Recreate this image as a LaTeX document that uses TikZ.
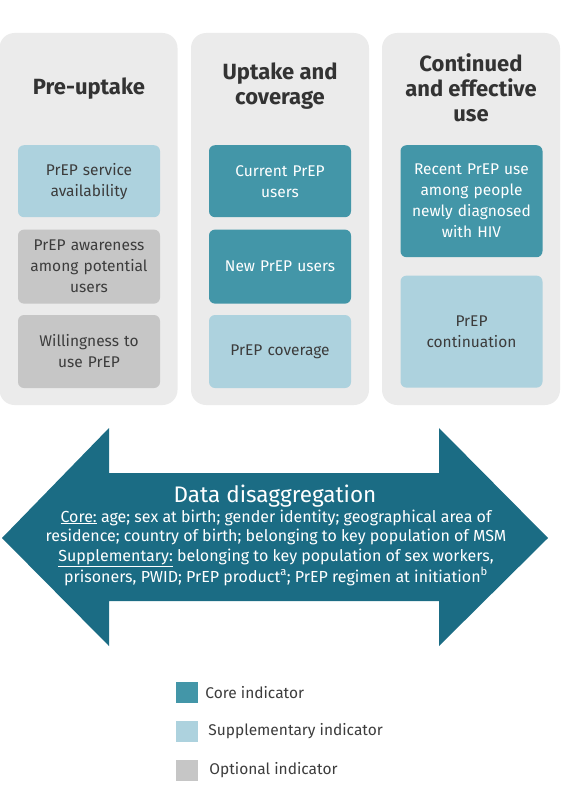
\documentclass[tikz,border=0pt]{standalone}
\usepackage{fontspec}
\setmainfont{Fira Sans}
\usetikzlibrary{positioning}

\definecolor{panelgray}{RGB}{235,235,235}
\definecolor{coreteal}{RGB}{67,150,168}
\definecolor{supblue}{RGB}{173,210,222}
\definecolor{optgray}{RGB}{198,198,198}
\definecolor{arrowteal}{RGB}{27,108,132}
\definecolor{titlegray}{RGB}{51,51,51}
\definecolor{textgray}{RGB}{60,60,60}

\begin{document}
\begin{tikzpicture}[x=1pt,y=1pt,
  panel/.style={fill=panelgray,rounded corners=15pt,minimum width=178pt,minimum height=372pt},
  head/.style={font=\fontsize{22}{25}\selectfont\bfseries,text=titlegray,align=center},
  ind/.style={rounded corners=6pt,minimum width=142pt,text width=136pt,align=center,
    font=\fontsize{15.5}{21}\selectfont,anchor=north,inner sep=0pt},
  core/.style={ind,fill=coreteal,text=white},
  supp/.style={ind,fill=supblue,text=textgray},
  opt/.style={ind,fill=optgray,text=textgray},
  key/.style={minimum width=22pt,minimum height=21pt,inner sep=0pt},
  keytext/.style={font=\fontsize{15.5}{18}\selectfont,text=textgray,inner sep=0pt}]
                \useasboundingbox (0,0) rectangle (567,-800);
                \node[panel] (p1) at (88.5,-219) {};
                \node[panel] (p2) at (280,-219) {};
                \node[panel] (p3) at (471,-219) {};
                \node[head] (t1) at (89,-89) {Pre-uptake};
                \node[head] (t2) at (280,-86) {Uptake and\\coverage};
                \node[head] (t3) at (471,-88) {Continued\\and effective\\use};
                \node[supp,minimum height=72pt] (avail) at (89,-145) {PrEP service\\availability};
                \node[opt,minimum height=74pt,below=12pt of avail] (aware) {PrEP awareness\\among potential\\users};
                \node[opt,minimum height=73pt,below=11pt of aware] (willing) {Willingness to\\use PrEP};
                \node[core,minimum height=72pt] (current) at (280,-145) {Current PrEP\\users};
                \node[core,minimum height=74pt,below=12pt of current] (newusers) {New PrEP users};
                \node[supp,minimum height=73pt,below=11pt of newusers] (coverage) {PrEP coverage};
                \node[core,minimum height=112pt] (recent) at (471.5,-145) {Recent PrEP use\\among people\\newly diagnosed\\with HIV};
                \node[supp,minimum height=112pt,below=18pt of recent] (contin) {PrEP\\continuation};
                \fill[arrowteal] (2,-538) -- (109,-428) -- (109,-473) -- (439,-473) -- (439,-428)
                  -- (548,-538) -- (439,-646) -- (439,-601) -- (109,-601) -- (109,-646) -- cycle;
                \node[font=\fontsize{22.5}{26}\selectfont,text=white] (dtitle) at (275,-496) {Data disaggregation};
                \node[font=\fontsize{16}{19.5}\selectfont,text=white,align=center] (dbody) at (276,-547.5)
                  {\underline{Core:} age; sex at birth; gender identity; geographical area of\\
                   residence; country of birth; belonging to key population of MSM\\
                   \underline{Supplementary:} belonging to key population of sex workers,\\
                   prisoners, PWID; PrEP product\textsuperscript{a}; PrEP regimen at initiation\textsuperscript{b}};
                \node[key,fill=coreteal] (kcore) at (187,-692.5) {};
                \node[key,fill=supblue] (ksupp) at (187,-731.5) {};
                \node[key,fill=optgray] (kopt) at (187,-770.5) {};
                \node[keytext,right=7pt of kcore] (lcore) {Core indicator};
                \node[keytext,right=10pt of ksupp] (lsupp) {Supplementary indicator};
                \node[keytext,right=11pt of kopt] (lopt) {Optional indicator};
            \end{tikzpicture}
\end{document}
